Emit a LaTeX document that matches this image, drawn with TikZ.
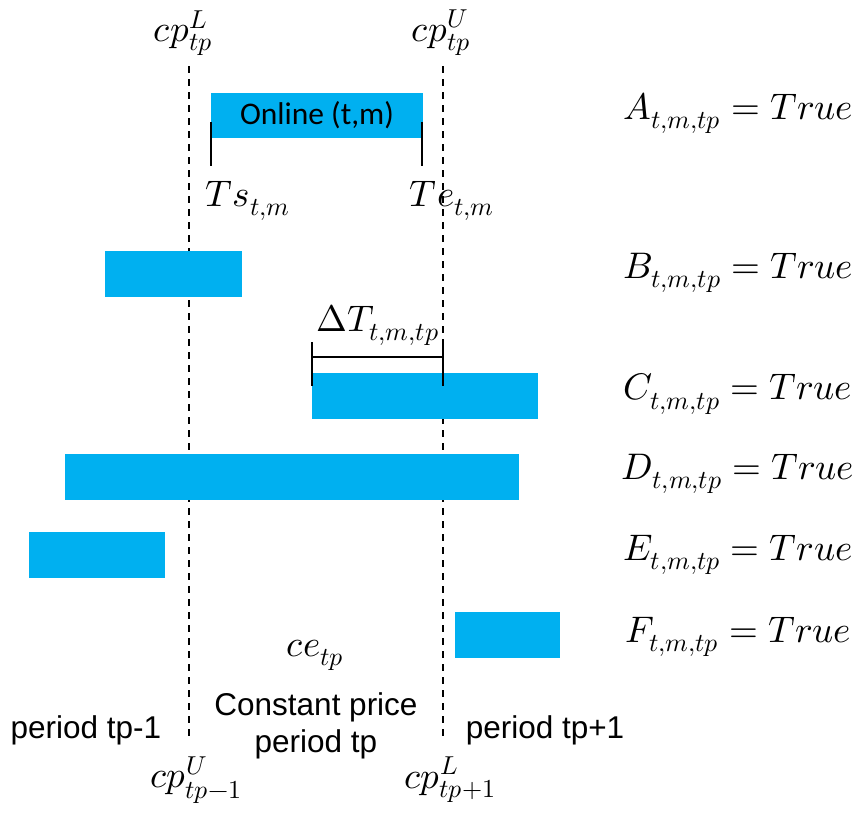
\documentclass[tikz,border=0pt]{standalone}
\usepackage{fontspec}
\usepackage{unicode-math}
\newfontfamily\arialf{Liberation Sans}
\newfontfamily\calibf{Carlito}
\definecolor{barblue}{HTML}{00B0F0}
\begin{document}
\begin{tikzpicture}[x=1pt,y=-1pt,
  bar/.style={fill=barblue, draw=none, inner sep=0, outer sep=0},
  cpline/.style={dash pattern=on 7pt off 6pt, line width=1.6pt},
  tickline/.style={line width=2.4pt},
  lab/.style={font=\fontsize{37}{42}\selectfont, inner sep=0},
  txt/.style={font=\arialf\fontsize{31.5}{37}\selectfont, inner sep=0, align=center},
]
\useasboundingbox (0,0) rectangle (858,814);

% dashed period borders
\coordinate (l1) at (189,66);
\coordinate (l2) at (189,740);
\coordinate (r1) at (443,66);
\coordinate (r2) at (443,740);
\draw[cpline] (l1) -- (l2);
\draw[cpline] (r1) -- (r2);

% bars
\node[bar, minimum width=212, minimum height=45, font=\calibf\fontsize{31.5}{36}\selectfont] (A) at (317,115.5) {Online (t,m)};
\node[bar, minimum width=137, minimum height=46] (B) at (173.5,274) {};
\node[bar, minimum width=226, minimum height=46] (C) at (425,396) {};
\node[bar, minimum width=454, minimum height=46] (D) at (292,477) {};
\node[bar, minimum width=136, minimum height=46] (E) at (97,555) {};
\node[bar, minimum width=105, minimum height=46] (F) at (507.5,635) {};

% start / end ticks
\coordinate (ts1) at (211,122); \coordinate (ts2) at (211,166);
\coordinate (te1) at (422,122); \coordinate (te2) at (422,166);
\draw[tickline] (ts1) -- (ts2);
\draw[tickline] (te1) -- (te2);

% Delta T bracket
\coordinate (d1) at (312,342); \coordinate (d2) at (312,386);
\coordinate (d3) at (443,342); \coordinate (d4) at (443,386);
\coordinate (dm1) at (312,357); \coordinate (dm2) at (443,357);
\draw[tickline] (d1) -- (d2);
\draw[tickline] (d3) -- (d4);
\draw[tickline] (dm1) -- (dm2);

% top labels
\node[lab] (cpL) at (183,33) {$cp^{L}_{tp}$};
\node[lab] (cpU) at (441,33) {$cp^{U}_{tp}$};
\node[lab] (Ts) at (248,201) {$Ts_{t,m}$};
\node[lab] (Te) at (452,201) {$Te_{t,m}$};
\node[lab] (DT) at (378,325) {$\Delta T_{t,m,tp}$};

% right labels
\node[lab] (lA) at (738,113) {$A_{t,m,tp}=True$};
\node[lab] (lB) at (738,273) {$B_{t,m,tp}=True$};
\node[lab] (lC) at (738,394) {$C_{t,m,tp}=True$};
\node[lab] (lD) at (738,474) {$D_{t,m,tp}=True$};
\node[lab] (lE) at (738,555) {$E_{t,m,tp}=True$};
\node[lab] (lF) at (738,637) {$F_{t,m,tp}=True$};

% bottom labels
\node[lab] (ce) at (315,655) {$ce_{tp}$};
\node[txt] (cp) at (316,726) {Constant price\\period tp};
\node[txt] (pm) at (86,730) {period tp-1};
\node[txt] (pp) at (545,730) {period tp+1};
\node[lab] (cpUm) at (196,780) {$cp^{U}_{tp-1}$};
\node[lab] (cpLp) at (450,780) {$cp^{L}_{tp+1}$};
\end{tikzpicture}
\end{document}
